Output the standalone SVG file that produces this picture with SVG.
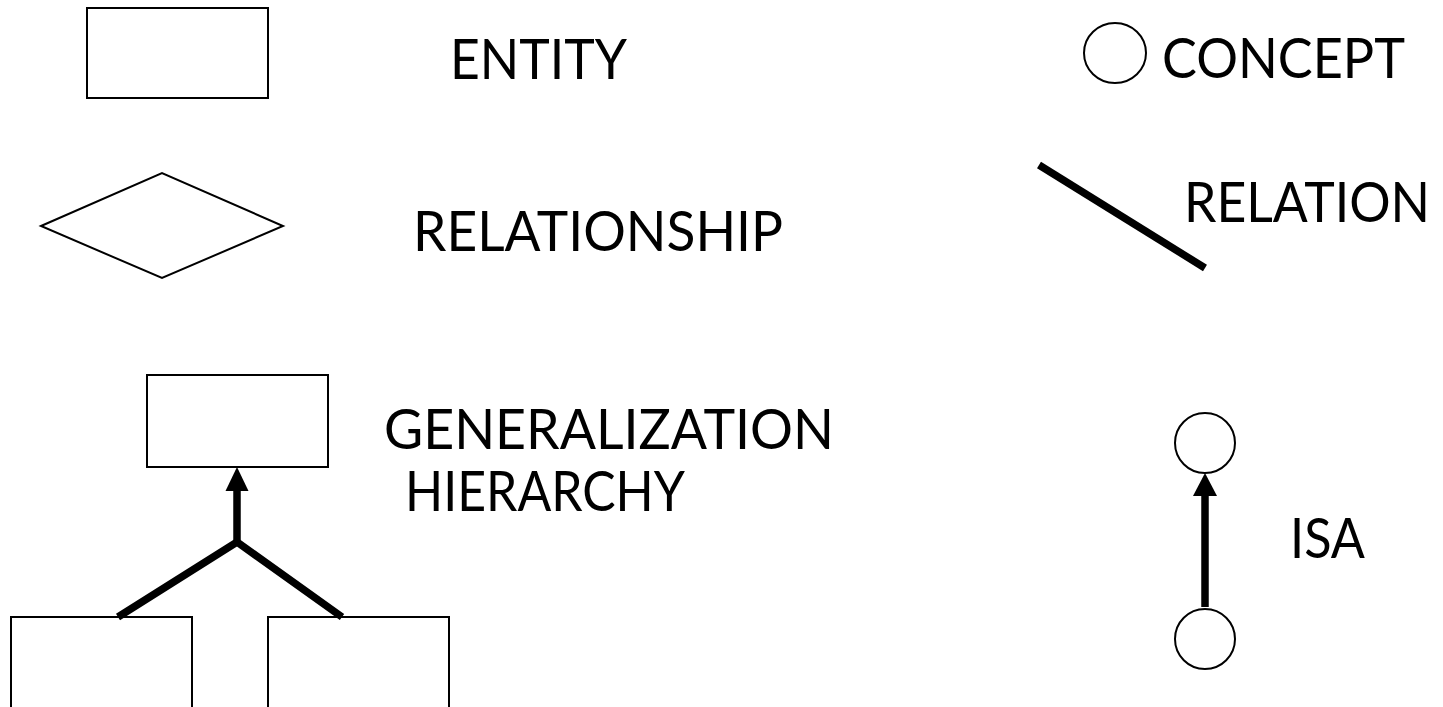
<svg xmlns="http://www.w3.org/2000/svg" width="1443" height="707" viewBox="0 0 1443 707">
<style>
.shape{fill:#fff;stroke:#000;stroke-width:2}
.thick{fill:none;stroke:#000;stroke-width:7.5}
.head{fill:#000;stroke:none}
.lbl{font-family:Lato,"Open Sans",sans-serif;font-size:57px;fill:#000}
</style>
<rect width="1443" height="707" fill="#fff"/>
<g id="entity">
<rect class="shape" x="87" y="8" width="181" height="90"/>
<text class="lbl" x="450" y="79" textLength="177" lengthAdjust="spacingAndGlyphs">ENTITY</text>
</g>
<g id="relationship">
<polygon class="shape" points="41,226 162,173 283,226 162,278"/>
<text class="lbl" x="413" y="251" textLength="370" lengthAdjust="spacingAndGlyphs">RELATIONSHIP</text>
</g>
<g id="concept">
<ellipse class="shape" cx="1115" cy="53" rx="31" ry="30"/>
<text class="lbl" x="1162" y="78" textLength="243" lengthAdjust="spacingAndGlyphs">CONCEPT</text>
</g>
<g id="relation">
<line class="thick" x1="1039" y1="165" x2="1205" y2="268"/>
<text class="lbl" x="1184" y="222" font-size="54" textLength="246" lengthAdjust="spacingAndGlyphs">RELATION</text>
</g>
<g id="generalization">
<rect class="shape" x="147" y="375" width="181" height="92"/>
<rect class="shape" x="11" y="617" width="181" height="100"/>
<rect class="shape" x="268" y="617" width="181" height="100"/>
<text class="lbl" x="384" y="449" textLength="450" lengthAdjust="spacingAndGlyphs">GENERALIZATION</text>
<text class="lbl" x="405" y="511" textLength="280" lengthAdjust="spacingAndGlyphs">HIERARCHY</text>
</g>
<g id="isa">
<circle class="shape" cx="1205" cy="443" r="30"/>
<circle class="shape" cx="1205" cy="639" r="30"/>
<text class="lbl" x="1290" y="558" textLength="75" lengthAdjust="spacingAndGlyphs">ISA</text>
</g>
<g id="connectors">
<polyline class="thick" points="118,617 237,542 342,617"/>
<line class="thick" x1="237" y1="542" x2="237" y2="488"/>
<polygon class="head" points="237,467 248.5,491 225.5,491"/>
<line class="thick" x1="1205" y1="607" x2="1205" y2="493"/>
<polygon class="head" points="1205,473 1217,496 1193,496"/>
</g>
</svg>
